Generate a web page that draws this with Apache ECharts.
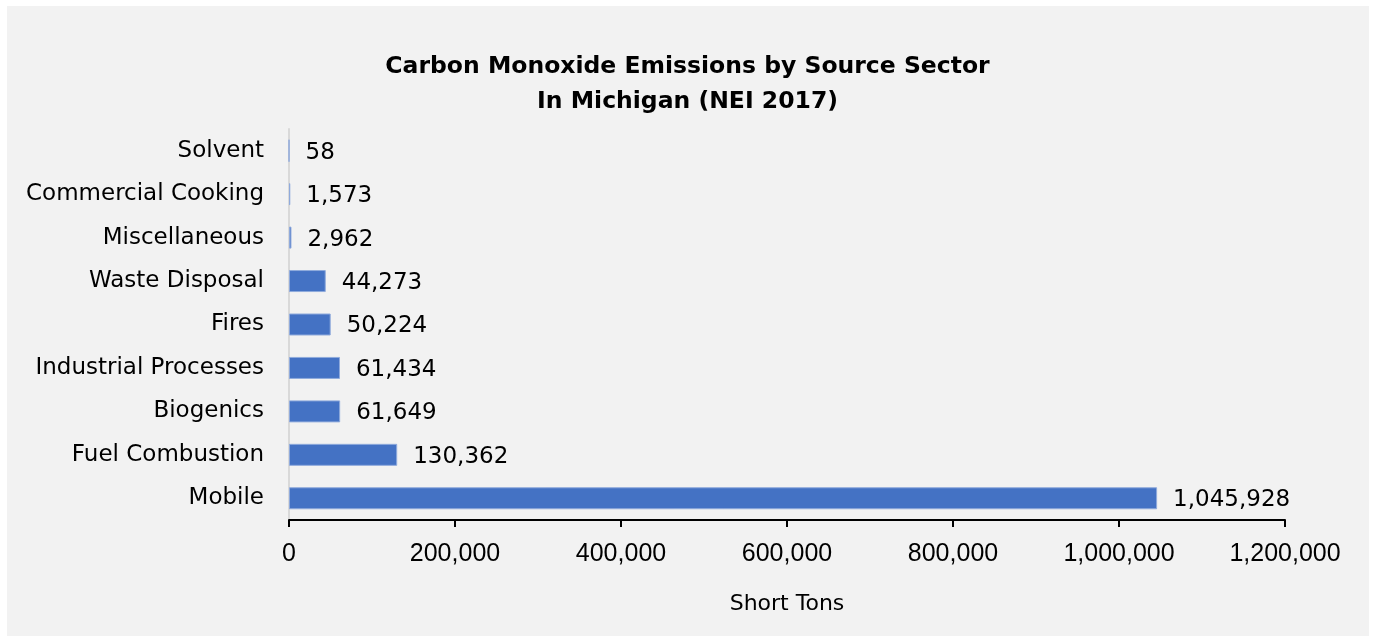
<!DOCTYPE html>
<html>
<head>
<meta charset="utf-8">
<script src="https://cdn.jsdelivr.net/npm/echarts@6/dist/echarts.min.js"></script>
<style>
  html, body { margin: 0; padding: 0; background: #fff; }
  #chart { width: 1375px; height: 642px; }
</style>
</head>
<body>
<div id="chart"></div>
<script>
// sectors top to bottom
const sectors = ['Solvent', 'Commercial Cooking', 'Miscellaneous', 'Waste Disposal', 'Fires',
  'Industrial Processes', 'Biogenics', 'Fuel Combustion', 'Mobile']
const tons = [58, 1573, 2962, 44273, 50224, 61434, 61649, 130362, 1045928]
const titleLines = ['Carbon Monoxide Emissions by Source Sector', 'In Michigan (NEI 2017)']

const chart = echarts.init(document.getElementById('chart'))

const labelFont = '"DejaVu Sans", sans-serif'

chart.setOption({
  backgroundColor: '#fff',
  animation: false,
  graphic: [{
    type: 'rect',
    z: -10,
    shape: { x: 7, y: 6, width: 1362, height: 630 },
    style: { fill: '#f2f2f2' }
  }],
  title: titleLines.map((t, i) => ({
    text: t,
    left: 'center',
    top: 50 + i * 35,
    textStyle: {
      fontFamily: labelFont,
      fontWeight: 'bold',
      fontSize: 23.5,
      color: '#000'
    }
  })),
  grid: { left: 289, right: 90, top: 129, bottom: 122 },
  xAxis: {
    type: 'value',
    min: 0,
    max: 1200000,
    interval: 200000,
    splitLine: { show: false },
    axisLine: { show: true, lineStyle: { color: '#000', width: 2 } },
    axisTick: { show: true, length: 7, lineStyle: { color: '#000', width: 2 } },
    axisLabel: {
      margin: 22,
      fontFamily: '"Liberation Sans", Arial, sans-serif',
      fontSize: 25,
      color: '#000',
      formatter: v => v.toLocaleString('en-US')
    },
    name: 'Short Tons',
    nameLocation: 'middle',
    nameGap: 73,
    nameTextStyle: { fontFamily: labelFont, fontSize: 22, color: '#000' }
  },
  yAxis: {
    type: 'category',
    data: sectors,
    inverse: true,
    axisLine: { show: true, lineStyle: { color: '#d9d9d9', width: 2 } },
    axisTick: { show: false },
    axisLabel: {
      margin: 25,
      padding: [4, 0, 0, 0],
      fontFamily: labelFont,
      fontSize: 23,
      color: '#000'
    }
  },
  series: [{
    type: 'bar',
    data: tons,
    barWidth: 22,
    itemStyle: { color: '#4472c4', borderColor: '#8faadc', borderWidth: 1 },
    label: {
      show: true,
      position: 'right',
      distance: 16,
      offset: [0, 2],
      fontFamily: labelFont,
      fontSize: 23,
      color: '#000',
      formatter: p => p.value.toLocaleString('en-US')
    }
  }]
})
</script>
</body>
</html>
